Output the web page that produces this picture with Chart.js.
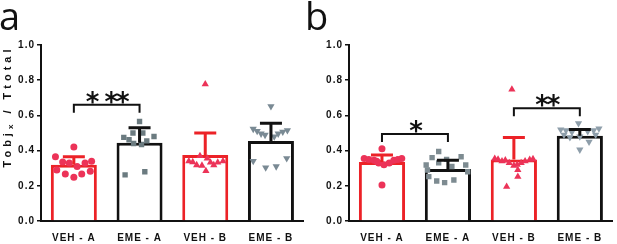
<!DOCTYPE html>
<html>
<head>
<meta charset="utf-8">
<script src="https://cdn.jsdelivr.net/npm/chart.js@4"></script>
<style>
html, body { margin: 0; padding: 0; background: #fff; }
#wrap { position: relative; width: 617px; height: 244px; }
.panel { position: absolute; top: 0; height: 244px; }
</style>
</head>
<body>
<div id="wrap">
  <div class="panel" style="left:0;width:308px"><canvas id="chartA"></canvas></div>
  <div class="panel" style="left:300px;width:317px"><canvas id="chartB"></canvas></div>
</div>
<script>
// categorias e ticks
const groups = ['VEH - A', 'EME - A', 'VEH - B', 'EME - B'];
const yTicks = [0, 0.2, 0.4, 0.6, 0.8, 1.0];

// painel a: médias e topo do desvio
const meanA = [0.32, 0.445, 0.375, 0.455];
const sdTopA = [0.365, 0.53, 0.50, 0.555];
// pontos individuais (valor) e deslocamento horizontal (em unidades de categoria)
const vehA_a = [0.42, 0.365, 0.335, 0.33, 0.31, 0.33, 0.34, 0.29, 0.267, 0.248, 0.267, 0.282];
const vehA_aOff = [0, -0.28, -0.17, -0.07, 0.05, 0.17, 0.27, -0.26, -0.13, 0, 0.12, 0.25];
const emeA_a = [0.475, 0.462, 0.44, 0.435, 0.455, 0.48, 0.5, 0.5, 0.565, 0.262, 0.28];
const emeA_aOff = [-0.24, -0.16, -0.09, 0.03, 0.11, 0.22, -0.1, 0.05, 0, -0.22, 0.08];
const vehB_a = [0.777, 0.34, 0.335, 0.37, 0.318, 0.315, 0.285, 0.333, 0.318, 0.333, 0.34, 0.355];
const vehB_aOff = [0, -0.25, -0.19, -0.08, -0.13, -0.05, 0.01, 0.08, 0.13, 0.19, 0.27, 0.03];
const emeB_a = [0.652, 0.523, 0.511, 0.496, 0.489, 0.48, 0.496, 0.507, 0.515, 0.341, 0.303, 0.31, 0.356];
const emeB_aOff = [0, -0.27, -0.21, -0.15, -0.09, 0.05, 0.11, 0.18, 0.25, -0.27, -0.08, 0.08, 0.24];

// painel b
const meanB = [0.335, 0.295, 0.35, 0.485];
const sdTopB = [0.375, 0.345, 0.475, 0.52];
const vehA_b = [0.355, 0.35, 0.345, 0.33, 0.32, 0.33, 0.345, 0.35, 0.355, 0.41, 0.205, 0.34];
const vehA_bOff = [-0.27, -0.2, -0.12, -0.05, 0.03, 0.11, 0.18, 0.24, 0.3, 0, 0, -0.08];
const emeA_b = [0.395, 0.36, 0.35, 0.365, 0.318, 0.318, 0.33, 0.31, 0.28, 0.252, 0.227, 0.218, 0.233, 0.29];
const emeA_bOff = [-0.14, -0.24, -0.02, 0.2, -0.33, 0.27, -0.14, 0.06, 0.3, -0.29, -0.17, -0.05, 0.09, -0.31];
const vehB_b = [0.748, 0.195, 0.252, 0.29, 0.354, 0.35, 0.34, 0.345, 0.33, 0.315, 0.32, 0.33, 0.34, 0.348, 0.352];
const vehB_bOff = [-0.03, -0.11, 0.06, 0.06, -0.29, -0.24, -0.18, -0.13, -0.07, 0, 0.05, 0.11, 0.17, 0.24, 0.29];
const emeB_b = [0.52, 0.515, 0.505, 0.555, 0.51, 0.515, 0.525, 0.475, 0.48, 0.45, 0.405, 0.49, 0.49];
const emeB_bOff = [-0.29, -0.21, -0.12, -0.02, 0.12, 0.21, 0.29, -0.15, 0, 0.14, 0, -0.24, 0.24];

// significância
const bracketsA = [{ from: 0, to: 1, y: 0.66, label: '* **' }];
const bracketsB = [{ from: 0, to: 1, y: 0.494, label: '*' }, { from: 2, to: 3, y: 0.64, label: '**' }];

const RED = '#ec2227';
const BLACK = '#111';
Chart.defaults.font.family = '"Liberation Sans", Arial, sans-serif';

const pontos = (vals, offs, i) => vals.map((v, k) => ({ x: i + offs[k], y: v }));

const extras = {
    id: 'extras',
    beforeDraw(chart) {
        chart.ctx.letterSpacing = '1px';
    },
    afterDatasetsDraw(chart, args, o) {
        const { ctx, scales: { x, y } } = chart;
        ctx.save();
        // barras de erro (só para cima)
        o.means.forEach((m, i) => {
            const px = x.getPixelForValue(i);
            const p0 = y.getPixelForValue(m);
            const p1 = y.getPixelForValue(o.tops[i]);
            ctx.strokeStyle = o.colors[i];
            ctx.lineWidth = 3;
            ctx.beginPath();
            ctx.moveTo(px, p0); ctx.lineTo(px, p1);
            ctx.moveTo(px - 11, p1); ctx.lineTo(px + 11, p1);
            ctx.stroke();
        });
        // colchetes de significância
        o.brackets.forEach(b => {
            const x0 = x.getPixelForValue(b.from), x1 = x.getPixelForValue(b.to);
            const py = y.getPixelForValue(b.y), pl = y.getPixelForValue(b.y - 0.045);
            ctx.strokeStyle = BLACK;
            ctx.lineWidth = 2;
            ctx.beginPath();
            ctx.moveTo(x0, pl); ctx.lineTo(x0, py); ctx.lineTo(x1, py); ctx.lineTo(x1, pl);
            ctx.stroke();
            ctx.letterSpacing = '-2px';
            ctx.font = 'bold 26px "DejaVu Sans"';
            ctx.textAlign = 'center';
            ctx.textBaseline = 'alphabetic';
            ctx.fillStyle = BLACK;
            ctx.fillText(b.label, (x0 + x1) / 2, py + 6);
        });
        ctx.restore();
    },
    afterDraw(chart, args, o) {
        const ctx = chart.ctx;
        ctx.save();
        ctx.letterSpacing = '0px';
        ctx.fillStyle = BLACK;
        ctx.font = '38px "Open Sans"';
        ctx.textAlign = 'left';
        ctx.textBaseline = 'alphabetic';
        ctx.fillText(o.letter, o.letterX, 30);
        if (o.title) {
            ctx.translate(7.5, 106.5);
            ctx.rotate(-Math.PI / 2);
            ctx.letterSpacing = '4px';
            ctx.textBaseline = 'middle';
            const f1 = 'bold 11px "Liberation Sans"', f2 = 'bold 8px "Liberation Sans"';
            ctx.font = f1; const w1 = ctx.measureText('Tobj').width;
            ctx.font = f2; const w2 = ctx.measureText('x').width;
            ctx.font = f1; const w3 = ctx.measureText(' / Ttotal').width;
            let cx = -(w1 + w2 + w3) / 2;
            ctx.fillText('Tobj', cx, 0); cx += w1;
            ctx.font = f2; ctx.fillText('x', cx, 3); cx += w2;
            ctx.font = f1; ctx.fillText(' / Ttotal', cx, 0);
        }
        ctx.restore();
    }
};

function criarGrafico(id, cfg) {
    const tickFont = { size: 10, weight: 'bold' };
    return new Chart(document.getElementById(id), {
        type: 'bar',
        data: {
            datasets: [
                { type: 'scatter', data: pontos(cfg.pts[0], cfg.offs[0], 0), pointStyle: 'circle', pointRadius: 3.5, backgroundColor: '#ec3358', borderWidth: 0, order: 0 },
                { type: 'scatter', data: pontos(cfg.pts[1], cfg.offs[1], 1), pointStyle: 'rect', pointRadius: 3.8, backgroundColor: cfg.gray1, borderWidth: 0, order: 0 },
                { type: 'scatter', data: pontos(cfg.pts[2], cfg.offs[2], 2), pointStyle: 'triangle', pointRadius: 4.2, backgroundColor: '#ec3358', borderWidth: 0, order: 0 },
                { type: 'scatter', data: pontos(cfg.pts[3], cfg.offs[3], 3), pointStyle: 'triangle', rotation: 180, pointRadius: 4.2, backgroundColor: cfg.gray2, borderWidth: 0, order: 0 },
                {
                    type: 'bar',
                    data: cfg.means.map((v, i) => ({ x: i, y: v })),
                    backgroundColor: '#fff',
                    borderColor: [RED, BLACK, RED, BLACK],
                    borderWidth: 3,
                    borderSkipped: 'start',
                    categoryPercentage: 1,
                    barPercentage: 0.7,
                    order: 2
                }
            ]
        },
        options: {
            responsive: true,
            maintainAspectRatio: false,
            animation: false,
            layout: { padding: { top: 45, right: cfg.padRight, bottom: 0, left: 0 } },
            plugins: {
                legend: { display: false },
                tooltip: { enabled: false },
                extras: {
                    means: cfg.means, tops: cfg.tops, colors: [RED, BLACK, RED, BLACK],
                    brackets: cfg.brackets, letter: cfg.letter, letterX: cfg.letterX, title: cfg.title
                }
            },
            scales: {
                x: {
                    type: 'linear', min: -0.5, max: 3.5, offset: false,
                    afterBuildTicks: s => { s.ticks = groups.map((g, i) => ({ value: i })); },
                    afterFit: s => { s.height = 23; },
                    grid: { display: false, drawTicks: false },
                    border: { display: true, color: BLACK, width: 2 },
                    ticks: { callback: v => groups[v], padding: 11, color: BLACK, font: tickFont, maxRotation: 0, autoSkip: false }
                },
                y: {
                    min: 0, max: 1,
                    afterBuildTicks: s => { s.ticks = yTicks.map(v => ({ value: v })); },
                    afterFit: s => { s.width = cfg.yWidth; },
                    grid: { drawOnChartArea: false, drawTicks: true, tickLength: 4, color: BLACK, lineWidth: 1.5 },
                    border: { display: true, color: BLACK, width: 2 },
                    ticks: { callback: v => v.toFixed(1), padding: 2, color: BLACK, font: tickFont }
                }
            }
        },
        plugins: [extras]
    });
}

criarGrafico('chartA', {
    means: meanA, tops: sdTopA, brackets: bracketsA,
    pts: [vehA_a, emeA_a, vehB_a, emeB_a], offs: [vehA_aOff, emeA_aOff, vehB_aOff, emeB_aOff],
    gray1: '#6b7b80', gray2: '#7a8a94', yWidth: 41, padRight: 4, letter: 'a', letterX: -1, title: true
});
criarGrafico('chartB', {
    means: meanB, tops: sdTopB, brackets: bracketsB,
    pts: [vehA_b, emeA_b, vehB_b, emeB_b], offs: [vehA_bOff, emeA_bOff, vehB_bOff, emeB_bOff],
    gray1: '#7d8b91', gray2: '#8e9eaa', yWidth: 49, padRight: 2, letter: 'b', letterX: 5, title: false
});
</script>
</body>
</html>
